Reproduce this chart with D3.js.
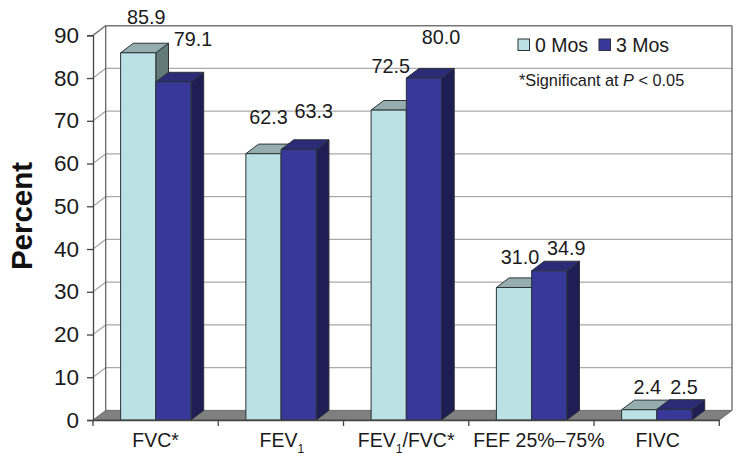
<!DOCTYPE html>
<html>
<head>
<meta charset="utf-8">
<script src="https://cdn.jsdelivr.net/npm/d3@7"></script>
<style>
  html, body { margin: 0; padding: 0; background: #fff; }
  svg { display: block; font-family: "Liberation Sans", Arial, sans-serif; }
</style>
</head>
<body>
<div id="chart"></div>
<script>
// Data
var categories = ["FVC*", "FEV1", "FEV1/FVC*", "FEF 25%–75%", "FIVC"];
var seriesNames = ["0 Mos", "3 Mos"];
var values0Mos = [85.9, 62.3, 72.5, 31.0, 2.4];
var values3Mos = [79.1, 63.3, 80.0, 34.9, 2.5];
var yTicks = [0, 10, 20, 30, 40, 50, 60, 70, 80, 90];

var width = 745, height = 463;
var left = 93, right = 719.3, bottom = 420;
var depthX = 12.7, depthY = 9.6;   // offset of the back wall

var colors = [
  { front: "#bce1e4", top: "#96adb0", side: "#627a78" },
  { front: "#38389a", top: "#2b2b78", side: "#1e1e55" }
];

var x0 = d3.scaleBand().domain(categories).range([left, right]);
var x1 = d3.scaleBand().domain(seriesNames).range([27.6, 98]);
var y = d3.scaleLinear().domain([0, 90]).range([bottom, 35.3]);

var svg = d3.select("#chart").append("svg")
  .attr("width", width)
  .attr("height", height);

function pts(list) {
  return list.map(function(p) { return p.join(","); }).join(" ");
}

// Back wall and gridlines
svg.selectAll(".grid")
  .data(yTicks.slice(1))
  .enter().append("path")
  .attr("class", "grid")
  .attr("fill", "none")
  .attr("stroke", function(d) { return d === 90 ? "#777" : "#aaa"; })
  .attr("stroke-width", function(d) { return d === 90 ? 1.5 : 1.3; })
  .attr("d", function(d) {
    return "M" + left + "," + y(d) +
      "L" + (left + depthX) + "," + (y(d) - depthY) +
      "L" + (right + depthX) + "," + (y(d) - depthY);
  });

svg.append("line")
  .attr("x1", left + depthX).attr("x2", left + depthX)
  .attr("y1", y(90) - depthY).attr("y2", y(0) - depthY)
  .attr("stroke", "#666").attr("stroke-width", 1.3);

svg.append("line")
  .attr("x1", right + depthX).attr("x2", right + depthX)
  .attr("y1", y(90) - depthY).attr("y2", y(0) - depthY)
  .attr("stroke", "#666").attr("stroke-width", 1.3);

// Floor
svg.append("polygon")
  .attr("points", pts([
    [left, y(0)], [right, y(0)],
    [right + depthX, y(0) - depthY], [left + depthX, y(0) - depthY]
  ]))
  .attr("fill", "#808080")
  .attr("stroke", "#555")
  .attr("stroke-width", 0.8);

// Bars
var rows = [];
categories.forEach(function(c, i) {
  rows.push({ cat: c, series: seriesNames[0], s: 0, value: values0Mos[i] });
  rows.push({ cat: c, series: seriesNames[1], s: 1, value: values3Mos[i] });
});

var bar = svg.selectAll(".bar")
  .data(rows)
  .enter().append("g")
  .attr("class", "bar")
  .attr("stroke", "#2b3338")
  .attr("stroke-width", 1)
  .attr("stroke-linejoin", "round");

bar.append("polygon")
  .attr("fill", function(d) { return colors[d.s].side; })
  .attr("points", function(d) {
    var xr = x0(d.cat) + x1(d.series) + x1.bandwidth();
    return pts([
      [xr, y(d.value)], [xr + depthX, y(d.value) - depthY],
      [xr + depthX, y(0) - depthY], [xr, y(0)]
    ]);
  });

bar.append("polygon")
  .attr("fill", function(d) { return colors[d.s].top; })
  .attr("points", function(d) {
    var xl = x0(d.cat) + x1(d.series), xr = xl + x1.bandwidth();
    return pts([
      [xl, y(d.value)], [xr, y(d.value)],
      [xr + depthX, y(d.value) - depthY], [xl + depthX, y(d.value) - depthY]
    ]);
  });

bar.append("rect")
  .attr("fill", function(d) { return colors[d.s].front; })
  .attr("x", function(d) { return x0(d.cat) + x1(d.series); })
  .attr("y", function(d) { return y(d.value); })
  .attr("width", x1.bandwidth())
  .attr("height", function(d) { return y(0) - y(d.value); });

// Value labels were placed by hand in the original, so nudge each from its bar top
var labelNudge = [
  [8, -29], [19.6, -36],
  [5, -30], [15, -31],
  [2, -37], [17, -34],
  [6, -23], [17, -16],
  [8, -16], [9.5, -15]
];

svg.selectAll(".value")
  .data(rows)
  .enter().append("text")
  .attr("class", "value")
  .attr("text-anchor", "middle")
  .attr("font-size", 19.8)
  .attr("fill", "#1a1a1a")
  .attr("x", function(d, i) {
    return x0(d.cat) + x1(d.series) + x1.bandwidth() / 2 + labelNudge[i][0];
  })
  .attr("y", function(d, i) { return y(d.value) + labelNudge[i][1]; })
  .text(function(d) { return d.value.toFixed(1); });

// Y axis
var yAxis = svg.append("g")
  .attr("transform", "translate(" + left + ",0)")
  .call(d3.axisLeft(y).tickValues(yTicks).tickSize(6).tickPadding(8));
yAxis.select(".domain").attr("stroke", "#444").attr("stroke-width", 1.3);
yAxis.selectAll(".tick line").attr("stroke", "#444").attr("stroke-width", 1.3);
yAxis.selectAll("text")
  .attr("font-size", 22.5)
  .attr("font-family", "Liberation Sans")
  .attr("fill", "#1a1a1a");

// X axis, ticks sit on the band edges
var xAxis = svg.append("g")
  .attr("transform", "translate(0," + bottom + ")")
  .call(d3.axisBottom(x0).tickSize(0).tickPadding(16).tickFormat(""));
xAxis.select(".domain").attr("stroke", "#444").attr("stroke-width", 1.3);

xAxis.selectAll(".edge")
  .data(categories.concat(["end"]))
  .enter().append("line")
  .attr("class", "edge")
  .attr("x1", function(d, i) { return left + i * x0.step(); })
  .attr("x2", function(d, i) { return left + i * x0.step(); })
  .attr("y1", 0)
  .attr("y2", 6)
  .attr("stroke", "#444")
  .attr("stroke-width", 1.3);

// Category labels are not all centred on their band in the original
var catNudge = [0, 1, 0, 7.5, 1];

xAxis.selectAll(".tick text").each(function(d, i) {
  var t = d3.select(this)
    .attr("x", catNudge[i])
    .attr("y", 26.5)
    .attr("dy", 0)
    .attr("font-size", 19.5)
    .attr("font-family", "Liberation Sans")
    .attr("fill", "#1a1a1a");
  var parts = d.split("FEV1");
  if (parts.length === 1) {
    t.text(d);
  } else {
    t.text(null);
    t.append("tspan").text("FEV");
    t.append("tspan").attr("dy", 6).attr("font-size", 12).text("1");
    t.append("tspan").attr("dy", -6).text(parts[1]);
  }
});

// Y title
svg.append("text")
  .attr("transform", "translate(32,216) rotate(-90)")
  .attr("text-anchor", "middle")
  .attr("font-size", 29.5)
  .attr("font-weight", "bold")
  .attr("fill", "#111")
  .text("Percent");

// Legend
var legend = svg.selectAll(".legend")
  .data(seriesNames)
  .enter().append("g")
  .attr("class", "legend")
  .attr("transform", function(d, i) { return "translate(" + (518 + i * 81) + ",39)"; });

legend.append("rect")
  .attr("width", 11.5)
  .attr("height", 11.5)
  .attr("fill", function(d, i) { return colors[i].front; })
  .attr("stroke", "#2b3338");

legend.append("text")
  .attr("x", 17)
  .attr("y", 12.5)
  .attr("font-size", 19.5)
  .attr("fill", "#1a1a1a")
  .text(function(d) { return d; });

// Note
var note = svg.append("text")
  .attr("x", 519)
  .attr("y", 86)
  .attr("font-size", 16.3)
  .attr("fill", "#1a1a1a");
note.append("tspan").text("*Significant at ");
note.append("tspan").attr("font-style", "italic").text("P");
note.append("tspan").text(" < 0.05");
</script>
</body>
</html>
